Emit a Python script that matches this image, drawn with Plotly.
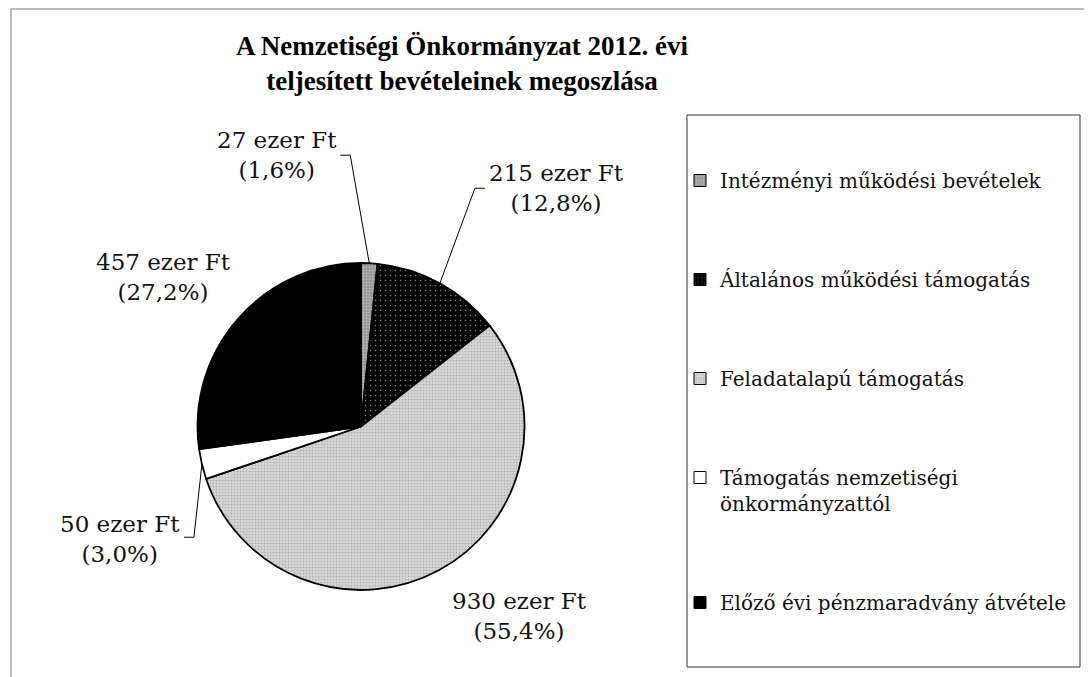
import math
import plotly.graph_objects as go

# ---- data ----
categories = [
    "Intézményi működési bevételek",
    "Általános működési támogatás",
    "Feladatalapú támogatás",
    "Támogatás nemzetiségi<br>önkormányzattól",
    "Előző évi pénzmaradvány átvétele",
]
values = [27, 215, 930, 50, 457]  # ezer Ft
title_text = "A Nemzetiségi Önkormányzat 2012. évi<br>teljesített bevételeinek megoszlása"

# ---- styles ----
W, H = 1092, 677
OFF = 8  # page body margin of the html page
FONT = "DejaVu Serif"
bg_colors = ["#8e8e8e", "#050505", "#d4d4d4", "#ffffff", "#000000"]
fg_colors = ["#e0e0e0", "#ffffff", "#8a8a8a", "#ffffff", "#000000"]
shapes_pat = [".", ".", ".", "", ""]
pat_size = [3, 5, 3, 4, 4]
pat_sol = [0.45, 0.07, 0.25, 0.1, 0.1]


def px_x(page_x):
    return (page_x - OFF) / W


def px_y(page_y):
    return 1 - (page_y - OFF) / H


# pie placement (page px -> paper coords)
dom_x = [px_x(197), px_x(525)]
dom_y = [px_y(590), px_y(263)]

# label text offsets (dx, dy; dy down, px) from each slice's perimeter midpoint
label_offsets = [(-92, -108), (117, -95), (81, 46), (-82, 75), (-74, -42)]
# leader polyline offsets (px) from the perimeter midpoint; None = no leader
leader_offsets = [[(-19, -108), (-29, -108)],
                  [(35, -95), (45, -95)],
                  None,
                  [(-8, 73), (-18, 73)],
                  None]

total = sum(values)

fig = go.Figure()
fig.add_trace(go.Pie(
    labels=categories,
    values=values,
    sort=False,
    direction="clockwise",
    rotation=0,
    textinfo="none",
    hoverinfo="label+value+percent",
    showlegend=False,
    domain=dict(x=dom_x, y=dom_y),
    marker=dict(
        colors=bg_colors,
        line=dict(color="#000000", width=1.8),
        pattern=dict(shape=shapes_pat, fgcolor=fg_colors, bgcolor=bg_colors,
                     size=pat_size, solidity=pat_sol, fillmode="overlay"),
    ),
))

# legend entries (one group per category so the groups can be spaced)
for i, name in enumerate(categories):
    fig.add_trace(go.Bar(
        x=[None], y=[None], name=name, legendgroup=f"g{i}", showlegend=True,
        marker=dict(color=bg_colors[i], line=dict(color="#000", width=1),
                    pattern=dict(shape=shapes_pat[i], fgcolor=fg_colors[i], bgcolor=bg_colors[i],
                                 size=pat_size[i], solidity=pat_sol[i], fillmode="overlay")),
    ))

# slice labels and leader lines
cx = (dom_x[0] + dom_x[1]) / 2 * W
cy = (dom_y[0] + dom_y[1]) / 2 * H
r = min((dom_x[1] - dom_x[0]) * W, (dom_y[1] - dom_y[0]) * H) / 2
cum = 0
for i, v in enumerate(values):
    mid = (cum + v / 2) / total * 2 * math.pi
    cum += v
    px = cx + r * math.sin(mid)
    py = cy + r * math.cos(mid)
    pct = f"{v / total * 100:.1f}".replace(".", ",")
    txt = f"{v} ezer Ft<br>({pct}%)"
    dx, dy = label_offsets[i]
    fig.add_annotation(x=px / W, y=py / H, xref="paper", yref="paper", text=txt,
                       showarrow=False, xanchor="center", yanchor="middle",
                       xshift=dx, yshift=-dy,
                       font=dict(family=FONT, size=23, color="#111"))
    if leader_offsets[i]:
        pts = [(px, py)] + [(px + ox, py - oy) for ox, oy in leader_offsets[i]]
        path = "M " + " L ".join(f"{x / W:.5f},{y / H:.5f}" for x, y in pts)
        fig.add_shape(type="path", path=path, xref="paper", yref="paper",
                      line=dict(color="#000", width=1))

# frames
fig.add_shape(type="rect", xref="paper", yref="paper",
              x0=px_x(11), x1=1.05, y0=-0.05, y1=px_y(9),
              line=dict(color="#777", width=1), layer="below")
fig.add_shape(type="rect", xref="paper", yref="paper",
              x0=px_x(687), x1=px_x(1080), y0=px_y(667), y1=px_y(115),
              line=dict(color="#333", width=1), layer="below")

fig.update_layout(
    width=W, height=H,
    margin=dict(l=0, r=0, t=0, b=0),
    paper_bgcolor="#ffffff", plot_bgcolor="#ffffff",
    title=dict(text=title_text, x=px_x(462), xanchor="center", y=px_y(55), yanchor="top",
               font=dict(family="Liberation Serif", size=27, color="#000", weight="bold")),
    xaxis=dict(visible=False), yaxis=dict(visible=False),
    legend=dict(x=px_x(680), xanchor="left", y=px_y(161), yanchor="top",
                font=dict(family=FONT, size=20, color="#111"),
                tracegroupgap=70, valign="top", bgcolor="rgba(0,0,0,0)",
                traceorder="grouped", itemclick=False, itemdoubleclick=False),
    barmode="overlay",
)

fig.write_html("out.html")
